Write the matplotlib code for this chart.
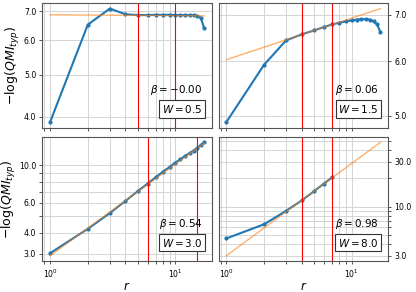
import numpy as np
import matplotlib
matplotlib.use("Agg")
import matplotlib.pyplot as plt
from matplotlib.ticker import FixedLocator, FuncFormatter

# disorder strengths, one panel each
W_values = [0.5, 1.5, 3.0, 8.0]

# -log(QMI_typ) vs distance r
r_short = np.arange(1, 18)
r_w8 = np.arange(1, 8)
qmi_w05 = [3.89, 6.52, 7.10, 6.89, 6.86, 6.86, 6.87, 6.87, 6.87, 6.86,
           6.86, 6.86, 6.86, 6.85, 6.83, 6.77, 6.40]
qmi_w15 = [4.90, 5.93, 6.43, 6.56, 6.645, 6.72, 6.78, 6.82, 6.85, 6.87,
           6.89, 6.90, 6.90, 6.89, 6.85, 6.78, 6.61]
qmi_w30 = [3.03, 4.22, 5.23, 6.17, 7.03, 7.80, 8.52, 9.20, 9.78, 10.4,
           10.86, 11.4, 11.8, 12.25, 12.7, 13.2, 13.7]
qmi_w80 = [4.58, 6.47, 9.0, 11.6, 14.5, 17.5, 20.4]

# power-law fits A * r^beta and the fit windows
fit_beta = [-0.002, 0.06, 0.54, 0.98]
fit_amp = [6.87, 6.03, 2.93, 3.00]
fit_lo = [5, 4, 6, 4]
fit_hi = [10, 7, 15, 7]

# labelled y ticks per panel
ylabels_at = [[4, 5, 6, 7], [5, 6, 7], [3, 4, 6, 10], [3, 10, 30]]

r_data = [r_short, r_short, r_short, r_w8]
qmi_data = [qmi_w05, qmi_w15, qmi_w30, qmi_w80]

fig, axes = plt.subplots(2, 2, sharex=True, figsize=(4.16, 2.92), dpi=100)
fig.subplots_adjust(left=0.102, right=0.933, top=0.99, bottom=0.105,
                    wspace=0.041, hspace=0.072)

decades = [1, 10, 100]
minors = [m * d for d in decades for m in range(2, 10)]

for i, ax in enumerate(axes.flat):
    ax.plot(r_data[i], qmi_data[i], ".-", color="C0", lw=1.5, ms=4)
    ax.plot(r_short, fit_amp[i] * r_short ** fit_beta[i],
            color="C1", lw=1.0, alpha=0.6)
    ax.axvline(fit_lo[i], color="red", lw=0.8)
    ax.axvline(fit_hi[i], color="red", lw=0.8)
    ax.set_xscale("log")
    ax.set_yscale("log")

    labs = ylabels_at[i]
    fmt = FuncFormatter(lambda v, _, labs=labs:
                        f"{v:.1f}" if any(np.isclose(v, t) for t in labs) else "")
    ax.yaxis.set_major_locator(FixedLocator(decades))
    ax.yaxis.set_minor_locator(FixedLocator(minors))
    ax.yaxis.set_major_formatter(fmt)
    ax.yaxis.set_minor_formatter(fmt)
    ax.tick_params(which="both", labelsize=5.6, length=2.5, width=0.7, pad=2,
                   color="#555555")
    ax.grid(True, which="both", color="#d4d4d4", lw=0.7)
    for sp in ax.spines.values():
        sp.set_color("#555555")
        sp.set_linewidth(0.8)

    if i % 2 == 1:
        ax.yaxis.tick_right()
    else:
        ax.set_ylabel(r"$-\log(QMI_{typ})$", fontsize=9, labelpad=1)
    if i >= 2:
        ax.set_xlabel(r"$r$", fontsize=8.5, labelpad=0)

    ax.text(0.945, 0.30, rf"$\beta = {fit_beta[i]:.2f}$", transform=ax.transAxes,
            ha="right", va="center", fontsize=7.5)
    ax.text(0.945, 0.15, rf"$W = {W_values[i]}$", transform=ax.transAxes,
            ha="right", va="center", fontsize=7.5,
            bbox=dict(boxstyle="square,pad=0.25", facecolor="white",
                      edgecolor="#333333", lw=0.8))

fig.savefig("out.png", dpi=100)
